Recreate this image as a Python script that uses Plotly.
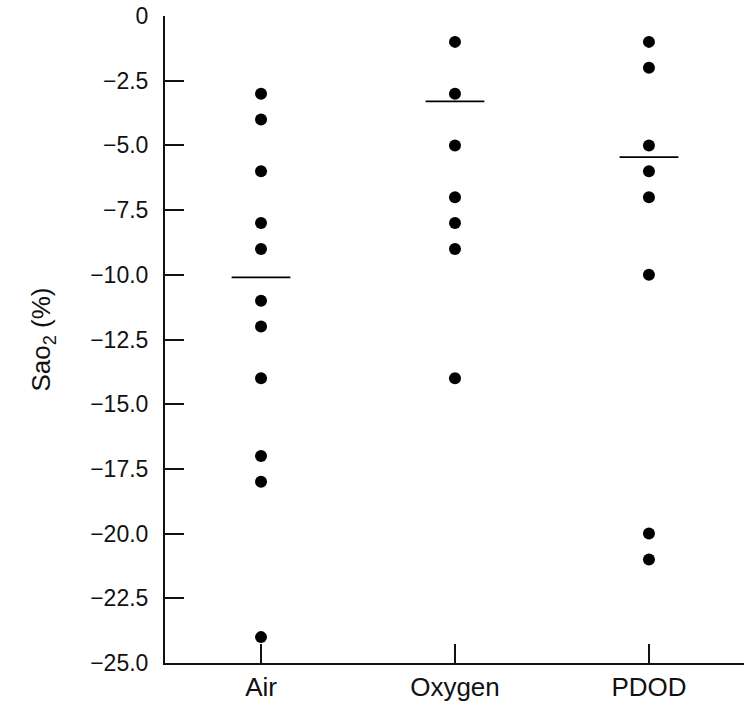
import plotly.graph_objects as go

categories = ["Air", "Oxygen", "PDOD"]
air = [-3, -4, -6, -8, -9, -11, -12, -14, -17, -18, -24]
oxygen = [-1, -3, -5, -7, -8, -9, -14]
pdod = [-1, -2, -5, -6, -7, -10, -20, -21]
means = [-10.1, -3.3, -5.45]
ytick_vals = [0, -2.5, -5, -7.5, -10, -12.5, -15, -17.5, -20, -22.5, -25]
ytick_text = ["0", "−2.5", "−5.0", "−7.5", "−10.0", "−12.5", "−15.0", "−17.5", "−20.0", "−22.5", "−25.0"]

series = [air, oxygen, pdod]
ink = "#111111"
font = "Liberation Sans, Arial, sans-serif"

fig = go.Figure()
for i, vals in enumerate(series):
    fig.add_trace(go.Scatter(
        x=[i] * len(vals), y=vals, mode="markers",
        marker=dict(color="black", size=12),
        showlegend=False, cliponaxis=False,
    ))

fig.add_trace(go.Scatter(
    x=list(range(len(categories))), y=means, mode="markers",
    marker=dict(symbol="line-ew", size=42, line=dict(color="black", width=1.8)),
    showlegend=False,
))

fig.update_layout(
    width=744, height=701,
    margin=dict(l=165, r=0, t=16, b=38),
    paper_bgcolor="white", plot_bgcolor="white",
    font=dict(family=font, color=ink, size=23),
)
fig.update_xaxes(
    range=[-0.495, 2.49], tickvals=list(range(len(categories))), ticktext=categories,
    showline=True, linecolor=ink, linewidth=2,
    ticks="inside", ticklen=19, tickwidth=1.8, tickcolor=ink,
    showgrid=False, zeroline=False, tickfont=dict(size=26),
)
fig.update_yaxes(
    range=[-25, 0], tickvals=ytick_vals, ticktext=ytick_text,
    showline=True, linecolor=ink, linewidth=2,
    ticks="inside", ticklen=19, tickwidth=1.8, tickcolor=ink,
    showgrid=False, zeroline=False, tickfont=dict(size=23),
    ticklabelstandoff=10,
    title=dict(text="Sao<sub>2</sub> (%)", font=dict(size=26), standoff=32),
)

fig.write_html("out.html")
